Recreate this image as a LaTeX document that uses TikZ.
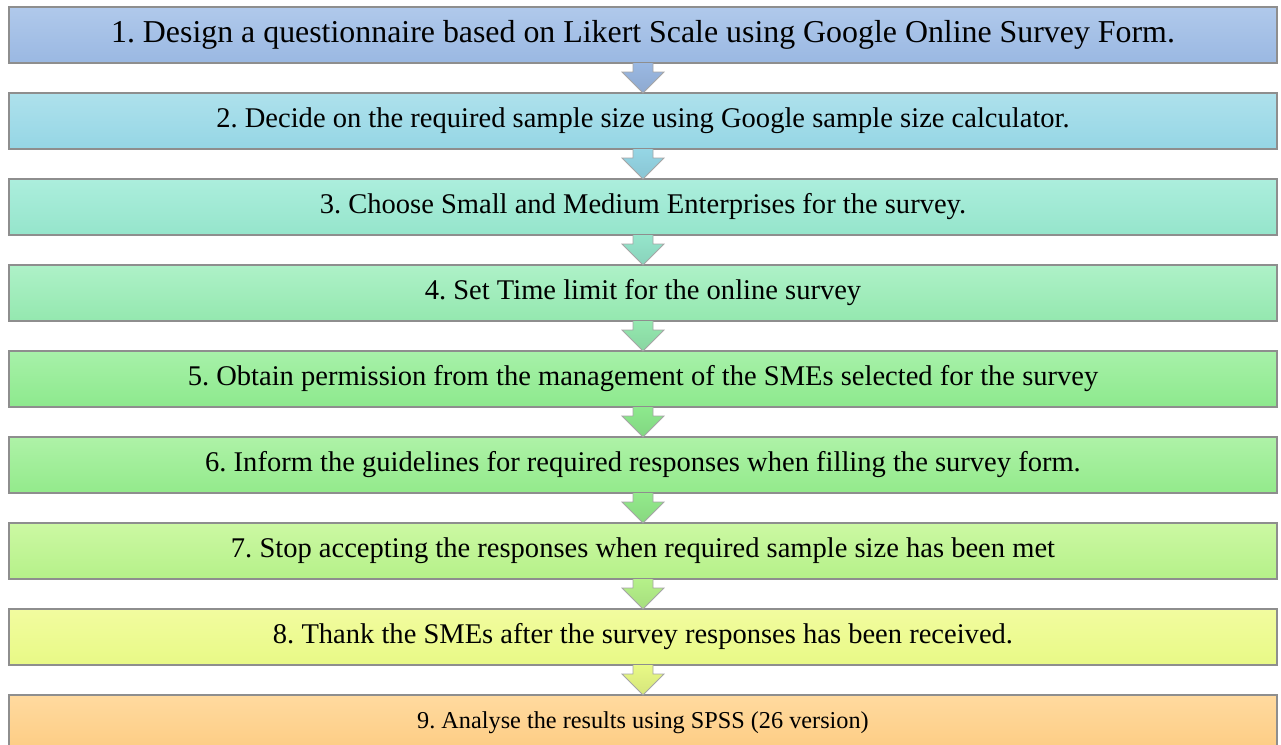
\documentclass[tikz,border=0pt]{standalone}
\usepackage{fontspec}
\setmainfont{Liberation Serif}
\usepackage{tikz}
\usetikzlibrary{positioning}
\frenchspacing
\definecolor{boxgray}{HTML}{8E8E8E}
\definecolor{b1top}{HTML}{B0C9EB}
\definecolor{b1bot}{HTML}{9AB8E2}
\definecolor{b2top}{HTML}{AEE1EC}
\definecolor{b2bot}{HTML}{95D6E5}
\definecolor{b3top}{HTML}{ACEEDD}
\definecolor{b3bot}{HTML}{95E5CB}
\definecolor{b4top}{HTML}{AEF1C8}
\definecolor{b4bot}{HTML}{94E8AF}
\definecolor{b5top}{HTML}{A7F1A9}
\definecolor{b5bot}{HTML}{8DE98D}
\definecolor{b6top}{HTML}{AEF2A7}
\definecolor{b6bot}{HTML}{93EA8B}
\definecolor{b7top}{HTML}{CCF8A3}
\definecolor{b7bot}{HTML}{B5F189}
\definecolor{b8top}{HTML}{F2FC9F}
\definecolor{b8bot}{HTML}{E8F986}
\definecolor{b9top}{HTML}{FFDA9F}
\definecolor{b9bot}{HTML}{FDCC83}

\begin{document}
\begin{tikzpicture}[x=0.75pt,y=-0.75pt,node distance=22.5pt,stepbox/.style={draw=boxgray,line width=0.8pt,minimum width=951pt,minimum height=42pt,inner sep=0pt,outer sep=0pt,font=\fontsize{21.4}{26}\selectfont},flow/.style={draw=boxgray!80,line width=0.6pt}]
\clip (0,0) rectangle (1281,744);
\node[stepbox,top color=b1top,bottom color=b1bot,anchor=north,font=\fontsize{23.9}{29}\selectfont] (s1) at (643,7) {1. Design a questionnaire based on Likert Scale using Google Online Survey Form.};
\node[stepbox,top color=b2top,bottom color=b2bot,below=of s1] (s2) {2. Decide on the required sample size using Google sample size calculator.};
\node[stepbox,top color=b3top,bottom color=b3bot,below=of s2] (s3) {3. Choose Small and Medium Enterprises for the survey.};
\node[stepbox,top color=b4top,bottom color=b4bot,below=of s3] (s4) {4. Set Time limit for the online survey};
\node[stepbox,top color=b5top,bottom color=b5bot,below=of s4] (s5) {5. Obtain permission from the management of the SMEs selected for the survey};
\node[stepbox,top color=b6top,bottom color=b6bot,below=of s5] (s6) {6. Inform the guidelines for required responses when filling the survey form.};
\node[stepbox,top color=b7top,bottom color=b7bot,below=of s6] (s7) {7. Stop accepting the responses when required sample size has been met};
\node[stepbox,top color=b8top,bottom color=b8bot,below=of s7] (s8) {8. Thank the SMEs after the survey responses has been received.};
\node[stepbox,top color=b9top,bottom color=b9bot,below=of s8,font=\fontsize{18.2}{22}\selectfont] (s9) {9. Analyse the results using SPSS (26 version)};
\path[flow,top color=b1bot,bottom color=b1bot!92!black] ([xshift=-7.5pt]s1.south) |- ([xshift=-15.75pt,yshift=15.75pt]s2.north) -- (s2.north) -- ([xshift=15.75pt,yshift=15.75pt]s2.north) -| ([xshift=7.5pt]s1.south);
\path[flow,top color=b2bot,bottom color=b2bot!92!black] ([xshift=-7.5pt]s2.south) |- ([xshift=-15.75pt,yshift=15.75pt]s3.north) -- (s3.north) -- ([xshift=15.75pt,yshift=15.75pt]s3.north) -| ([xshift=7.5pt]s2.south);
\path[flow,top color=b3bot,bottom color=b3bot!92!black] ([xshift=-7.5pt]s3.south) |- ([xshift=-15.75pt,yshift=15.75pt]s4.north) -- (s4.north) -- ([xshift=15.75pt,yshift=15.75pt]s4.north) -| ([xshift=7.5pt]s3.south);
\path[flow,top color=b4bot,bottom color=b4bot!92!black] ([xshift=-7.5pt]s4.south) |- ([xshift=-15.75pt,yshift=15.75pt]s5.north) -- (s5.north) -- ([xshift=15.75pt,yshift=15.75pt]s5.north) -| ([xshift=7.5pt]s4.south);
\path[flow,top color=b5bot,bottom color=b5bot!92!black] ([xshift=-7.5pt]s5.south) |- ([xshift=-15.75pt,yshift=15.75pt]s6.north) -- (s6.north) -- ([xshift=15.75pt,yshift=15.75pt]s6.north) -| ([xshift=7.5pt]s5.south);
\path[flow,top color=b6bot,bottom color=b6bot!92!black] ([xshift=-7.5pt]s6.south) |- ([xshift=-15.75pt,yshift=15.75pt]s7.north) -- (s7.north) -- ([xshift=15.75pt,yshift=15.75pt]s7.north) -| ([xshift=7.5pt]s6.south);
\path[flow,top color=b7bot,bottom color=b7bot!92!black] ([xshift=-7.5pt]s7.south) |- ([xshift=-15.75pt,yshift=15.75pt]s8.north) -- (s8.north) -- ([xshift=15.75pt,yshift=15.75pt]s8.north) -| ([xshift=7.5pt]s7.south);
\path[flow,top color=b8bot,bottom color=b8bot!92!black] ([xshift=-7.5pt]s8.south) |- ([xshift=-15.75pt,yshift=15.75pt]s9.north) -- (s9.north) -- ([xshift=15.75pt,yshift=15.75pt]s9.north) -| ([xshift=7.5pt]s8.south);
\end{tikzpicture}
\end{document}
